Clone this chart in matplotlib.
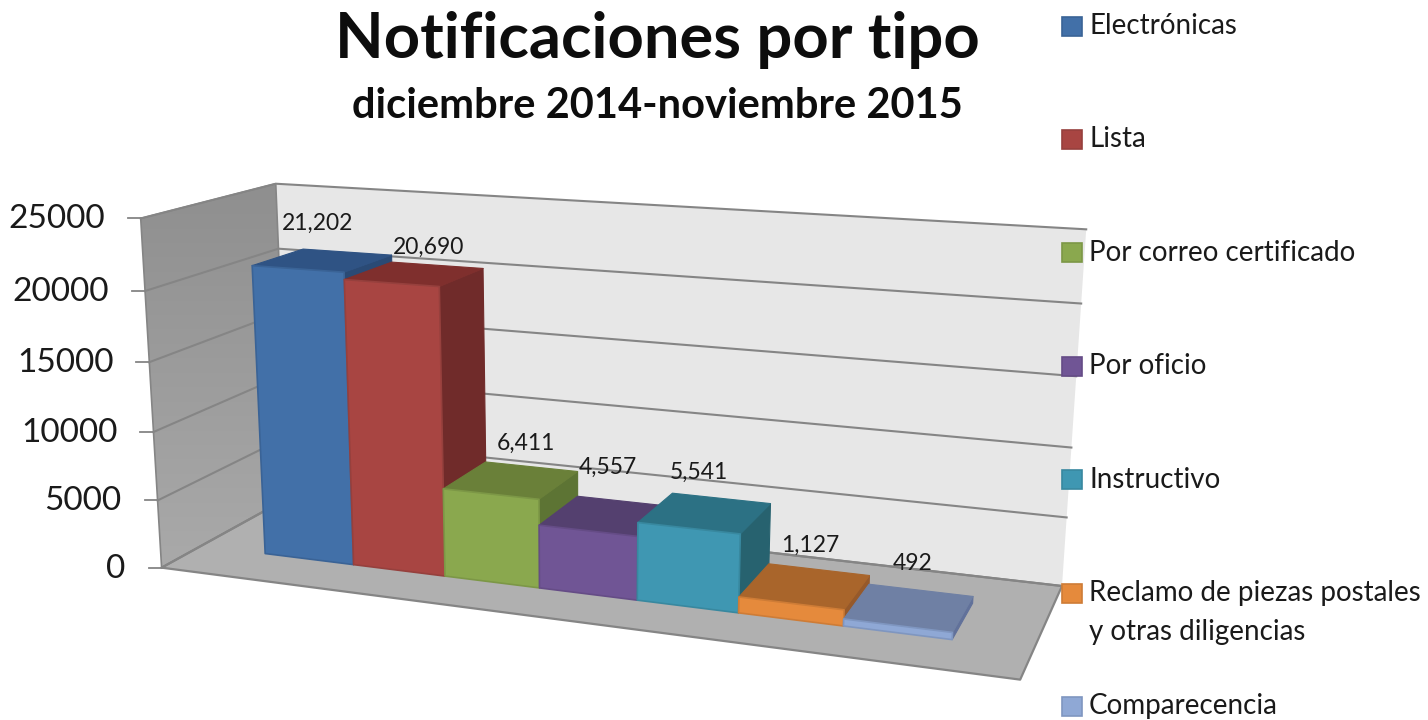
import numpy as np
import matplotlib
matplotlib.use("Agg")
import matplotlib.pyplot as plt
from matplotlib.patches import Polygon

# ---------- data ----------
categories = ["Electrónicas", "Lista", "Por correo certificado", "Por oficio", "Instructivo",
              "Reclamo de piezas postales\ny otras diligencias", "Comparecencia"]
values = [21202, 20690, 6411, 4557, 5541, 1127, 492]
value_labels = ["21,202", "20,690", "6,411", "4,557", "5,541", "1,127", "492"]
axis_ticks = [0, 5000, 10000, 15000, 20000, 25000]
axis_max = 25000
title = "Notificaciones por tipo"
subtitle = "diciembre 2014-noviembre 2015"

# ---------- styles ----------
front_colors = ["#4270A8", "#A84542", "#8AA84E", "#705595", "#3F97B2", "#E58A3C", "#8FA8D5"]
top_colors = ["#2F5384", "#7F2F2D", "#6A8039", "#54406F", "#2C7184", "#A9652B", "#6F80A4"]
side_colors = ["#2A4A75", "#702B2A", "#5D7434", "#4A3862", "#27626F", "#96592A", "#61719A"]
edge_colors = ["#3A6396", "#96403D", "#7C9746", "#654C86", "#38889F", "#CE7C36", "#7F96C0"]
label_offsets = [(-5, -37), (14, -27), (14, -37), (1, -48), (-6, -41), (5, -41), (3, -44)]
FONT = "Lato"

# ---------- perspective scale: (position, depth, value) -> pixel, calibrated on the picture ----------
calib = [
    (0,0,0,265,553),(1,0,0,353,564),(2,0,0,445,576),(3,0,0,539,587),(4,0,0,637,600),(5,0,0,739,612),
    (6,0,0,843,625),(7,0,0,953,638),
    (0,0,21202,253,265),(1,0,20690,344,278),(2,0,20690,440,287),(2,0,6411,445,490),(3,0,6411,539,500),
    (3,0,4557,539,527),(4,0,4557,637,537),(4,0,5541,637,523),(5,0,5541,739,534),(5,0,1127,739,598),
    (6,0,1127,843,610),(6,0,492,845,620),(7,0,492,953,633),
    (0,1,21202,302,249),(1,1,21202,392,256),(2,1,20690,483,268),(3,1,6411,578,473),(2,1,6411,487,462),
    (3,1,4557,577,496),(4,1,5541,670,492),(5,1,5541,770,503),(5,1,1127,772,564),(6,1,1127,869,576),
    (6,1,492,870,584),(7,1,492,972,596),
]
A = []
for u, v, w, x, y in calib:
    w = w / 1000.0
    A.append([u, v, w, 1, 0, 0, 0, 0, -x*u, -x*v, -x*w, -x])
    A.append([0, 0, 0, 0, u, v, w, 1, -y*u, -y*v, -y*w, -y])
P = np.linalg.svd(np.array(A, float))[2][-1].reshape(3, 4)

def proj(u, v, w):
    h = P @ np.array([u, v, w / 1000.0, 1.0])
    return h[0] / h[2], h[1] / h[2]

floor_h = P[:, [0, 1, 3]]
def unproject_floor(x, y):
    h = np.linalg.solve(floor_h, [x, y, 1.0])
    return h[0] / h[2], h[1] / h[2]

# frame extents on the category/depth scales
fl = unproject_floor(161, 568)
fr = unproject_floor(1023, 680)
br = unproject_floor(1062, 586)
u_lo, u_hi = fl[0], br[0]
v_lo, v_hi = fr[1], br[1]

fig = plt.figure(figsize=(14.28, 7.2), dpi=100)
ax = fig.add_axes([0, 0, 1, 1])
ax.set_xlim(0, 1428)
ax.set_ylim(720, 0)
ax.axis("off")

def face(points, fc, ec=None, lw=0.8, z=2):
    poly = Polygon([proj(*p) for p in points], closed=True, facecolor=fc,
                   edgecolor=ec if ec else fc, linewidth=lw, joinstyle="round", zorder=z)
    ax.add_patch(poly)
    return poly

FRAME = "#858585"
# left wall with a vertical gradient
wall = face([(u_lo, v_lo, 0), (u_lo, v_hi, 0), (u_lo, v_hi, axis_max), (u_lo, v_lo, axis_max)],
            "none", ec=FRAME, lw=1.2, z=1.2)
grad = ax.imshow(np.linspace(0, 1, 256).reshape(-1, 1), cmap=matplotlib.colors.LinearSegmentedColormap.from_list(
    "w", ["#8E8E8E", "#ABABAB"]), extent=(120, 300, 590, 170), aspect="auto", zorder=1.1)
grad.set_clip_path(wall)
ax.set_xlim(0, 1428)
ax.set_ylim(720, 0)
# back wall, floor
face([(u_lo, v_hi, 0), (u_hi, v_hi, 0), (u_hi, v_hi, axis_max), (u_lo, v_hi, axis_max)], "#E7E7E7", ec="none", lw=0, z=1)
face([(u_lo, v_lo, 0), (u_hi, v_lo, 0), (u_hi, v_hi, 0), (u_lo, v_hi, 0)], "#B0B0B0", ec=FRAME, lw=1.6, z=1.3)

# gridlines, ticks and tick labels
for t in axis_ticks:
    pts = [proj(u_lo, v_lo, t), proj(u_lo, v_hi, t), proj(u_hi, v_hi, t)]
    ax.plot([p[0] for p in pts], [p[1] for p in pts], color=FRAME, lw=1.5, zorder=1.5, solid_joinstyle="round")
    x0, y0 = pts[0]
    ax.plot([x0 - 13, x0], [y0, y0], color=FRAME, lw=1.3, zorder=1.5)
    ax.text(x0 - 36, y0 + 1, str(t), ha="right", va="center", fontsize=24,
            family=FONT, color="#1a1a1a", zorder=5)

# bars, drawn left to right so each covers its neighbour's side
for i, val in enumerate(values):
    face([(i+1, 0, 0), (i+1, 1, 0), (i+1, 1, val), (i+1, 0, val)], side_colors[i], z=2+i*0.1)
    face([(i, 0, val), (i+1, 0, val), (i+1, 1, val), (i, 1, val)], top_colors[i], z=2+i*0.1)
    face([(i, 0, 0), (i+1, 0, 0), (i+1, 0, val), (i, 0, val)], front_colors[i], ec=edge_colors[i], lw=1.2, z=2+i*0.1)
    cx, cy = proj(i + 0.5, 0.5, val)
    dx, dy = label_offsets[i]
    ax.text(cx + dx, cy + dy, value_labels[i], ha="center", va="center", fontsize=16.5,
            family=FONT, color="#1a1a1a", zorder=6)

# titles
ax.text(657, 40, title, ha="center", va="center", fontsize=45.5, fontweight="bold", family=FONT, color="#0d0d0d", zorder=6)
ax.text(657, 106, subtitle, ha="center", va="center", fontsize=30, fontweight="bold", family=FONT, color="#0d0d0d", zorder=6)

# legend
for i, name in enumerate(categories):
    ly = 26 + i * 113.4
    ax.add_patch(Polygon([(1062, ly - 9.5), (1082, ly - 9.5), (1082, ly + 9.5), (1062, ly + 9.5)], closed=True,
                         facecolor=front_colors[i], edgecolor=edge_colors[i], linewidth=1.2, zorder=7))
    ax.text(1089, ly - 13, name, ha="left", va="top", fontsize=20, family=FONT, color="#1a1a1a",
            linespacing=1.64, zorder=7)

fig.savefig("out.png", dpi=100, facecolor="white")
